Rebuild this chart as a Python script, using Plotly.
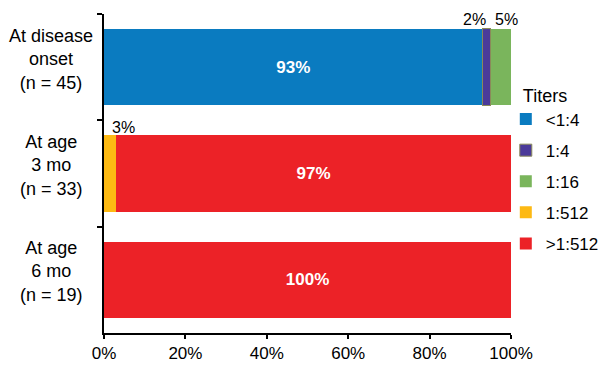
import plotly.graph_objects as go

categories = ["At disease onset (n = 45)", "At age 3 mo (n = 33)", "At age 6 mo (n = 19)"]
category_labels = ["At disease<br>onset<br>(n = 45)", "At age<br>3 mo<br>(n = 33)", "At age<br>6 mo<br>(n = 19)"]
titers = ["<1:4", "1:4", "1:16", "1:512", ">1:512"]
values = {
    "<1:4": [93, 0, 0],
    "1:4": [2, 0, 0],
    "1:16": [5, 0, 0],
    "1:512": [0, 3, 0],
    ">1:512": [0, 97, 100],
}
x_tick_vals = [0, 20, 40, 60, 80, 100]
x_tick_text = ["0%", "20%", "40%", "60%", "80%", "100%"]
inside_labels = {"<1:4": True, ">1:512": True}
outside_labels = [("1:4", 0), ("1:16", 0), ("1:512", 1)]
colors = {
    "<1:4": "#0A7BC0",
    "1:4": "#4B3A9A",
    "1:16": "#7AB55C",
    "1:512": "#FDB913",
    ">1:512": "#EC2227",
}

FONT = "Liberation Sans, Arial, sans-serif"
fig = go.Figure()
for t in titers:
    vals = values[t]
    text = [f"{v}%" if (inside_labels.get(t) and v > 0) else "" for v in vals]
    fig.add_trace(go.Bar(
        y=categories, x=vals, name=t, orientation="h",
        marker=dict(color=colors[t],
                    line=dict(color="#8A8A5A" if t == "1:4" else colors[t], width=1 if t == "1:4" else 0)),
        text=text, textposition="inside", insidetextanchor="middle",
        textfont=dict(color="white", size=17, family=FONT, weight="bold"),
        legendgroup=t, hoverinfo="x+name",
    ))

# outside percentage labels above small segments
xshifts = {"1:4": -12, "1:16": 6, "1:512": 13}
yshifts = {"1:4": 48, "1:16": 48, "1:512": 46}
for t, ci in outside_labels:
    start = sum(values[s][ci] for s in titers[:titers.index(t)])
    v = values[t][ci]
    fig.add_annotation(x=start + v / 2, y=categories[ci], text=f"{v}%",
                       showarrow=False, yshift=yshifts[t], xshift=xshifts[t],
                       font=dict(size=16, color="black", family=FONT))

for cat, lab in zip(categories, category_labels):
    fig.add_annotation(x=-0.13, xref="paper", y=cat, yref="y", text=lab,
                       showarrow=False, align="center", xanchor="center",
                       yshift=8, font=dict(size=18, color="black", family=FONT))

fig.update_layout(
    barmode="stack", bargap=0.28,
    width=600, height=372,
    margin=dict(l=104, r=89, t=14, b=39, autoexpand=False),
    plot_bgcolor="white", paper_bgcolor="white",
    font=dict(family=FONT, size=17, color="black"),
    legend=dict(title=dict(text="\u00a0\u00a0\u00a0Titers", font=dict(size=18)),
                xref="container", yref="container",
                x=0.843, xanchor="left", y=0.79, yanchor="top",
                traceorder="grouped", tracegroupgap=6,
                font=dict(size=17), bgcolor="rgba(0,0,0,0)"),
    xaxis=dict(range=[0, 100], tickmode="array", tickvals=x_tick_vals, ticktext=x_tick_text,
               showgrid=False, zeroline=False, showline=True, linecolor="black", linewidth=2,
               ticks="outside", ticklen=4, tickwidth=2, tickcolor="black",
               tickfont=dict(size=17), automargin=False),
    yaxis=dict(autorange="reversed", showticklabels=False, showgrid=False, showline=True,
               linecolor="black", linewidth=2, ticks="outside", ticklen=5, tickwidth=2,
               tickcolor="black", tickson="boundaries", automargin=False),
    showlegend=True,
)

fig.write_html("out.html", config={"displayModeBar": False},
               post_script="document.body.style.margin='0';document.body.style.overflow='hidden';")
